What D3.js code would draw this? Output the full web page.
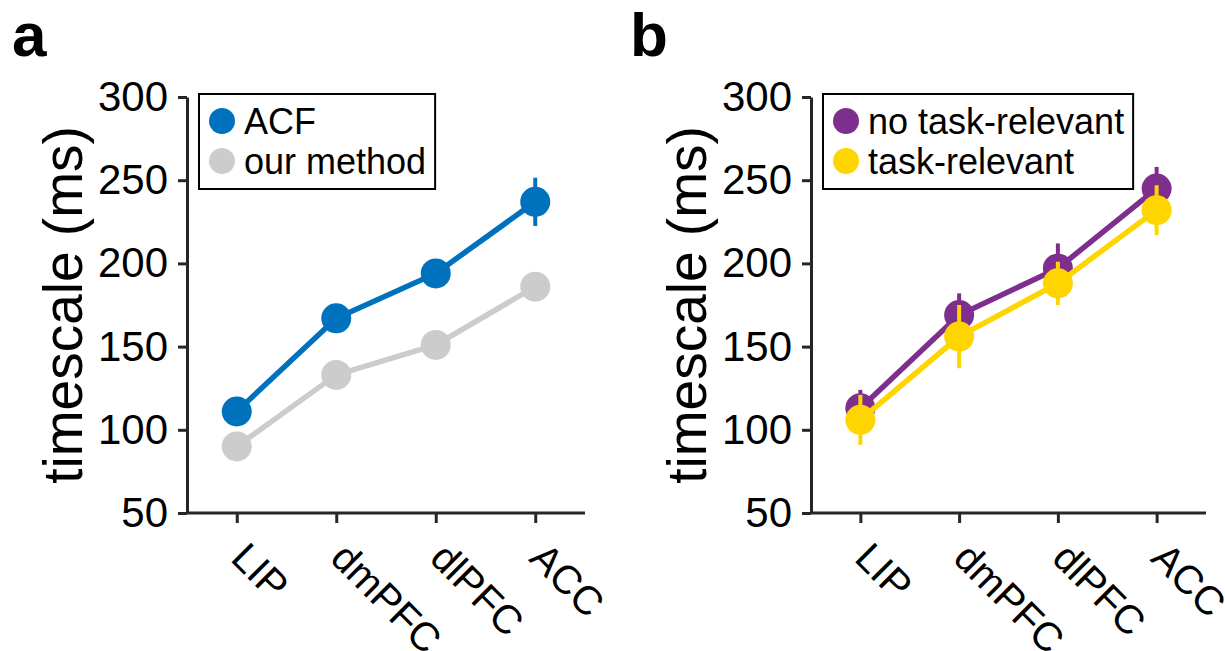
<!DOCTYPE html>
<html>
<head>
<meta charset="utf-8">
<script src="https://cdn.jsdelivr.net/npm/d3@7"></script>
<style>
  body { margin: 0; background: #fff; }
  svg { font-family: "Liberation Sans", Arial, Helvetica, sans-serif; }
</style>
</head>
<body>
<svg id="chart" width="1225" height="651"></svg>
<script>
// areas on the x axis
const areas = ["LIP", "dmPFC", "dlPFC", "ACC"];
const yTicks = [50, 100, 150, 200, 250, 300];

// panel a
const acfMean = [111, 167, 194, 237];
const acfErr = [4, 4, 4, 14.5];
const ourMean = [90, 133, 151, 186];
const ourErr = [3, 3, 3, 3];

// panel b
const noTaskMean = [113, 169, 197, 245];
const noTaskErr = [11, 13, 15, 13];
const taskMean = [106, 156, 188, 232];
const taskErr = [15, 19, 13, 15];

var svg = d3.select("#chart");
var axisColor = "#262626";

var y = d3.scaleLinear().domain([50, 300]).range([513, 97]);

function drawPanel(left, right, letter, letterX, series) {
  var x = d3.scalePoint().domain(areas).range([left, right]).padding(0.5);
  var g = svg.append("g");

  // panel letter
  g.append("text")
    .attr("x", letterX).attr("y", 56)
    .attr("font-size", 62).attr("font-weight", "bold")
    .text(letter);

  // y axis
  var yAxis = g.append("g")
    .attr("transform", `translate(${left},0)`)
    .call(d3.axisLeft(y).tickValues(yTicks).tickSize(9).tickPadding(10).tickSizeOuter(0));
  yAxis.select(".domain").attr("stroke", axisColor).attr("stroke-width", 3);
  yAxis.selectAll(".tick line").attr("stroke", axisColor).attr("stroke-width", 3);
  yAxis.selectAll(".tick text").attr("font-size", 42).attr("fill", "#000");

  // x axis
  var xAxis = g.append("g")
    .attr("transform", "translate(0,513)")
    .call(d3.axisBottom(x).tickSize(10).tickSizeOuter(0));
  xAxis.select(".domain").attr("stroke", axisColor).attr("stroke-width", 3)
    .attr("d", `M${left},0H${right}`);
  xAxis.selectAll(".tick line").attr("stroke", axisColor).attr("stroke-width", 3);
  xAxis.selectAll(".tick text")
    .attr("font-size", 40).attr("fill", "#000")
    .attr("dy", null).attr("y", null)
    .attr("text-anchor", "start")
    .attr("transform", "translate(-8,47) rotate(45)");

  // y label
  g.append("text")
    .attr("transform", `translate(${left - 105},${y(175)}) rotate(-90)`)
    .attr("text-anchor", "middle")
    .attr("font-size", 55)
    .text("timescale (ms)");

  series.forEach(s => {
    var pts = areas.map((a, i) => ({ a: a, m: s.mean[i], e: s.err[i] }));
    g.append("path")
      .datum(pts)
      .attr("fill", "none")
      .attr("stroke", s.color)
      .attr("stroke-width", 5.5)
      .attr("d", d3.line().x(d => x(d.a)).y(d => y(d.m)));
    g.selectAll(null)
      .data(pts)
      .enter()
      .append("line")
      .attr("x1", d => x(d.a)).attr("x2", d => x(d.a))
      .attr("y1", d => y(d.m - d.e)).attr("y2", d => y(d.m + d.e))
      .attr("stroke", s.color).attr("stroke-width", 4);
    g.selectAll(null)
      .data(pts)
      .enter()
      .append("circle")
      .attr("cx", d => x(d.a)).attr("cy", d => y(d.m))
      .attr("r", 15)
      .attr("fill", s.color);
  });

  // legend
  var lx = left + 12, ly = 94;
  var legend = g.append("g");
  var box = legend.append("rect")
    .attr("x", lx).attr("y", ly)
    .attr("height", 95)
    .attr("fill", "#fff").attr("stroke", "#000").attr("stroke-width", 2);
  var maxW = 0;
  series.forEach((s, i) => {
    legend.append("circle")
      .attr("cx", lx + 23).attr("cy", ly + 27 + i * 40)
      .attr("r", 13).attr("fill", s.color);
    var t = legend.append("text")
      .attr("x", lx + 45).attr("y", ly + 27 + i * 40)
      .attr("dy", "0.36em")
      .attr("font-size", 36)
      .text(s.name);
    maxW = Math.max(maxW, t.node().getComputedTextLength());
  });
  box.attr("width", maxW + 54);
}

drawPanel(187, 585, "a", 12, [
  { name: "ACF", mean: acfMean, err: acfErr, color: "#0072BD" },
  { name: "our method", mean: ourMean, err: ourErr, color: "#CCCCCC" }
]);

drawPanel(811, 1206, "b", 630, [
  { name: "no task-relevant", mean: noTaskMean, err: noTaskErr, color: "#7E2F8E" },
  { name: "task-relevant", mean: taskMean, err: taskErr, color: "#FFD500" }
]);
</script>
</body>
</html>
